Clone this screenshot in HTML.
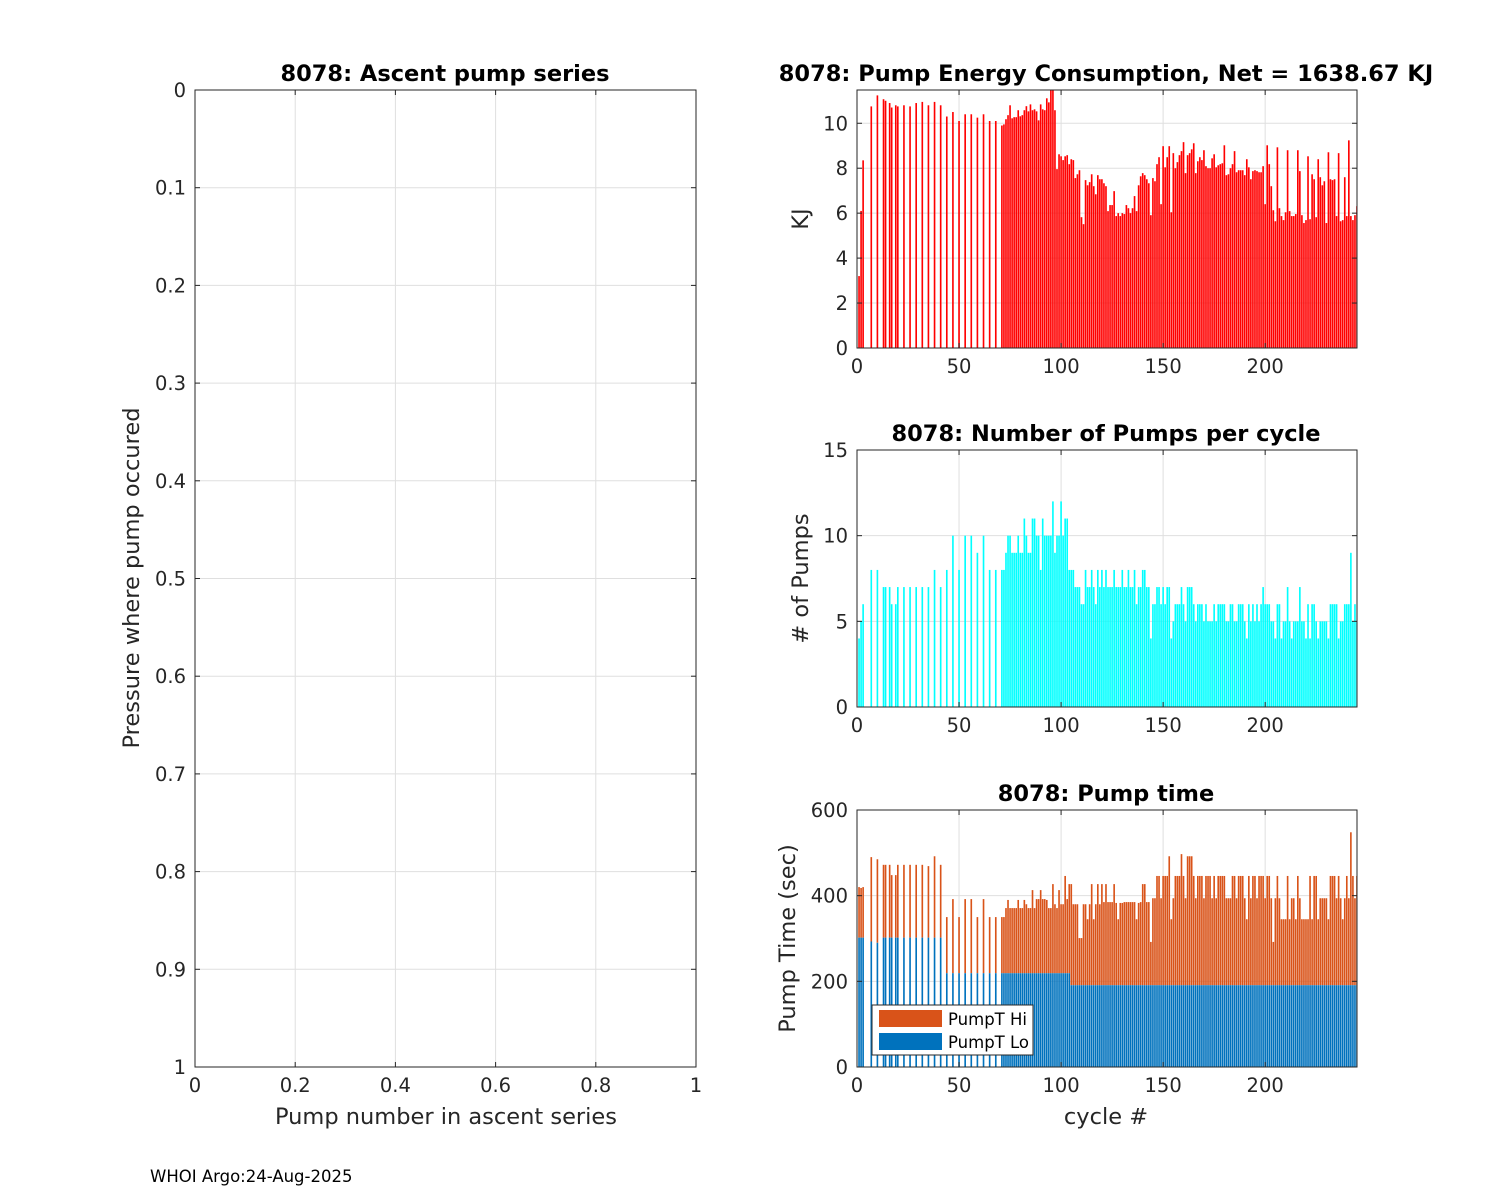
<!DOCTYPE html>
<html><head><meta charset="utf-8"><style>
html,body{margin:0;padding:0;background:#fff;}
svg{display:block;font-family:"DejaVu Sans","Liberation Sans",sans-serif;}
</style></head><body>
<svg id="fig" width="1500" height="1200" viewBox="0 0 1500 1200" xmlns="http://www.w3.org/2000/svg">
<rect width="1500" height="1200" fill="#fff"/>
<defs>
<clipPath id="c1"><rect x="857" y="90" width="500" height="258"/></clipPath>
<clipPath id="c2"><rect x="857" y="450" width="500" height="257"/></clipPath>
<clipPath id="c3"><rect x="857" y="810" width="500" height="257"/></clipPath>
</defs>
<g id="left"></g>
<g id="p1"></g>
<g id="p2"></g>
<g id="p3"></g>
<text x="150" y="1182" font-size="16.5" fill="#000">WHOI Argo:24-Aug-2025</text>
</svg>
<script>
// ---- data (per cycle, starting at cycle 1; 0 = no data) ----
const energyEarly = [3.2,6.1,8.35,0,0,0,10.75,0,0,11.24,0,0,11.07,11.0,0,10.9,10.7,0,10.8,10.75,0,0,10.8,0,0,10.75,0,0,10.9,0,0,10.95,0,0,10.8,0,0,10.95,0,0,10.8,0,0,10.3,0,0,10.5,0,0,10.1,0,0,10.4,0,0,10.4,0,0,10.25,0,0,10.4,0,0,10.1,0,0,10.1,0,0,9.9,9.95];
const energyMid = [10.18,10.36,10.8,10.22,10.27,10.27,10.58,10.31,10.36,10.58,10.76,10.53,10.84,10.58,10.62,10.53,10.13,10.84,10.62,10.58,11.11,10.93,11.47,11.6,10.58,7.96,8.62,8.53,8.36,8.53,8.58,8.18,8.4,8.36,7.56,7.73,7.91,5.82,5.51,7.47,7.24,7.38,7.73,7.2,6.84,7.69,7.51,7.51];
const energyLate = [7.33,7.2,6.09,6.36,6.36,6.98,5.87,6.0,5.87,6.0,5.96,6.36,6.22,6.0,6.22,6.76,6.09,7.24,7.64,7.78,7.69,7.51,7.33,5.91,7.56,7.42,8.18,8.49,6.4,8.98,8.04,8.49,8.98,6.04,8.67,8.0,8.27,8.58,8.76,9.16,7.78,8.58,8.67,8.84,9.11,7.78,8.31,8.49,8.36,8.8,8.09,8.0,8.0,8.44,8.62,8.04,8.13,8.18,8.22,9.02,7.69,7.73,8.0,8.18,8.76,7.82,7.91,7.91,7.91,7.69,8.4,8.04,7.51,7.87,7.91,7.87,7.82,7.82,8.09,6.4,9.02,8.18,7.2,6.13,5.64,8.93,6.22,5.87,5.69,6.04,8.8,6.09,5.87,5.87,5.96,8.8,7.87,5.91,5.56,5.69,8.53,5.73,7.73,7.51,5.82,8.4,7.6,7.24,7.42,5.56,8.71,7.51,7.47,7.51,5.87,8.67,5.64,5.69,7.6,5.87,9.24,5.87,5.69,5.91,6.31,5.91];
const pumpsEarly = [4,5,6,0,0,0,8,0,0,8,0,0,7,7,0,7,6,0,6,7,0,0,7,0,0,7,0,0,7,0,0,7,0,0,7,0,0,8,0,0,7,0,0,8,0,0,10,0,0,8,0,0,10,0,0,10,0,0,9,0,0,10,0,0,8,0,0,8,0,0,8,8];
const pumpsMid = [9,10,10,9,9,9,10,9,9,11,10,9,9,11,11,10,10,8,11,10,10,10,10,12,9,10,10,12,10,11,11,8,8,8,7,7,7,6,6,8,7,7,8,7,6,8,7,8];
const pumpsLate = [7,8,7,7,7,8,7,7,7,8,7,7,8,7,7,8,6,7,7,8,8,7,7,4,6,6,7,7,6,7,6,7,7,4,5,6,6,6,7,6,5,7,7,7,6,5,6,6,6,5,6,5,5,5,6,5,6,6,6,6,5,5,6,6,5,5,6,6,6,5,4,6,5,6,5,6,5,6,7,6,6,6,5,5,4,6,6,4,5,5,7,5,4,5,5,5,7,5,5,4,6,4,6,6,5,4,5,5,5,5,4,6,6,6,6,4,5,5,6,6,6,9,5,6,5,8,6];
const timeTotalEarly = [420,418,420,0,0,0,490,0,0,485,0,0,472,472,0,472,448,0,448,472,0,0,472,0,0,472,0,0,472,0,0,472,0,0,469,0,0,492,0,0,472,0,0,350,0,0,392,0,0,350,0,0,392,0,0,392,0,0,350,0,0,392,0,0,350,0,0,350,0,0,350,350];
const timeTotalMid = [371,390,371,371,371,371,390,371,371,390,380,371,371,413,371,392,392,413,392,392,390,371,371,427,380,371,413,380,380,446,392,427,427,380,380,380,301,301,380,380,345,380,427,345,380,427,380,427];
const timeTotalLate = [385,427,385,385,385,427,383,345,383,383,385,385,385,385,385,385,345,383,385,427,427,385,385,292,394,394,446,446,394,446,446,446,492,345,394,446,446,446,497,446,394,492,492,492,446,394,446,446,446,394,446,446,446,394,446,394,446,446,446,446,394,394,394,446,446,394,446,446,446,394,345,446,394,446,446,394,446,446,446,394,446,446,394,292,394,446,394,345,345,345,446,345,394,394,345,446,394,345,345,345,345,446,345,446,446,345,394,394,394,394,345,446,446,446,394,446,394,345,394,446,394,548,446,394,446,492,394];
// PumpT Lo levels by cycle range: [firstCycle, lastCycle, seconds]
const loRanges = [[1,3,302],[7,7,293],[10,10,290],[13,41,302],[44,104,219],[105,247,191]];
const xTicks = [0,50,100,150,200];
const energyTicks = [0,2,4,6,8,10];
const pumpTicks = [0,5,10,15];
const timeTicks = [0,200,400,600];
const leftXTicks = [0,0.2,0.4,0.6,0.8,1];
const leftYTicks = [0,0.1,0.2,0.3,0.4,0.5,0.6,0.7,0.8,0.9,1];

const NS = "http://www.w3.org/2000/svg";
function mk(tag, attrs, parent, txt){
  const e = document.createElementNS(NS, tag);
  for (const k in attrs) e.setAttribute(k, attrs[k]);
  if (txt !== undefined) e.textContent = txt;
  parent.appendChild(e); return e;
}
const AX = "#262626", GRID = "#dfdfdf";
const TICK = 19.5, TITLE = 22.5, LABEL = 22.5;
const energy = energyEarly.concat(energyMid, energyLate);
const pumps = pumpsEarly.concat(pumpsMid, pumpsLate);
const timeTotal = timeTotalEarly.concat(timeTotalMid, timeTotalLate);
function loAt(c){ for (const r of loRanges) if (c>=r[0] && c<=r[1]) return r[2]; return 191; }

const X0 = 857, X1 = 1357, XMAX = 245;
const xs = c => X0 + c*(X1-X0)/XMAX;
const BW = 0.8*(X1-X0)/XMAX;

function panel(g, top, bot, ymax, ticks, clip, title, ylabel, ylx){
  const ys = v => bot - v*(bot-top)/ymax;
  for (const t of xTicks) { const l = mk('line',{x1:xs(t),x2:xs(t),y1:top,y2:bot,stroke:GRID,'stroke-width':1},g);
      }
  for (const t of ticks) { const l = mk('line',{x1:X0,x2:X1,y1:ys(t),y2:ys(t),stroke:GRID,'stroke-width':1},g);
      }
  const bars = mk('g',{'clip-path':'url(#'+clip+')'},g);
   
  const fr = mk('rect',{x:X0,y:top,width:X1-X0,height:bot-top,fill:'none',stroke:AX,'stroke-width':1},g);
   
  for (const t of xTicks){
    mk('line',{x1:xs(t),x2:xs(t),y1:bot,y2:bot-5,stroke:AX},g);
    mk('line',{x1:xs(t),x2:xs(t),y1:top,y2:top+5,stroke:AX},g);
    const tx = mk('text',{x:xs(t),y:bot+25,'font-size':TICK,'text-anchor':'middle',fill:AX},g,String(t));
     
  }
  for (const t of ticks){
    mk('line',{x1:X0,x2:X0+5,y1:ys(t),y2:ys(t),stroke:AX},g);
    mk('line',{x1:X1,x2:X1-5,y1:ys(t),y2:ys(t),stroke:AX},g);
    const tx = mk('text',{x:X0-9,y:ys(t)+7,'font-size':TICK,'text-anchor':'end',fill:AX},g,String(t));
     
  }
  const ti = mk('text',{x:1106,y:top-9,'font-size':TITLE,'font-weight':'bold','text-anchor':'middle',fill:'#000','xml:space':'preserve'},g,title);
   
  const yl = mk('text',{x:ylx,y:(top+bot)/2,'font-size':LABEL,'text-anchor':'middle',fill:AX,transform:'rotate(-90 '+ylx+' '+(top+bot)/2+')'},g,ylabel);
   
  return {ys, bars};
}

const P1 = panel(document.getElementById('p1'), 90, 348, 11.48, energyTicks, 'c1', '8078: Pump Energy Consumption,  Net = 1638.67 KJ', 'KJ', 808);
energy.forEach((v,i)=>{ if(!v) return; const c=i+1;
  const r = mk('rect',{x:xs(c)-BW/2,y:P1.ys(v),width:BW,height:P1.ys(0)-P1.ys(v),fill:'#ff0000'},P1.bars);
    });

const P2 = panel(document.getElementById('p2'), 450, 707, 15, pumpTicks, 'c2', '8078: Number of Pumps per cycle', '# of Pumps', 808);
pumps.forEach((v,i)=>{ if(!v) return; const c=i+1;
  const r = mk('rect',{x:xs(c)-BW/2,y:P2.ys(v),width:BW,height:P2.ys(0)-P2.ys(v),fill:'#00ffff'},P2.bars);
    });

const P3 = panel(document.getElementById('p3'), 810, 1067, 600, timeTicks, 'c3', '8078: Pump time', 'Pump Time (sec)', 795);
timeTotal.forEach((v,i)=>{ if(!v) return; const c=i+1; const lo = loAt(c);
  const h = mk('rect',{x:xs(c)-BW/2,y:P3.ys(v),width:BW,height:P3.ys(lo)-P3.ys(v),fill:'#d95319'},P3.bars);
   
  const l = mk('rect',{x:xs(c)-BW/2,y:P3.ys(lo),width:BW,height:P3.ys(0)-P3.ys(lo),fill:'#0072bd'},P3.bars);
    });
const g3 = document.getElementById('p3');
const xl = mk('text',{x:1106,y:1124,'font-size':LABEL,'text-anchor':'middle',fill:AX},g3,'cycle #');
 
const lg = mk('g',{},g3);
 
mk('rect',{x:872,y:1005,width:161,height:50,fill:'#fff',stroke:AX,'stroke-width':1},lg);
const e1 = mk('g',{},lg);  
mk('rect',{x:879,y:1010,width:63,height:17,fill:'#d95319'},e1);
mk('text',{x:948,y:1025,'font-size':16.5,fill:'#000'},e1,'PumpT Hi');
const e2 = mk('g',{},lg);  
mk('rect',{x:879,y:1033,width:63,height:17,fill:'#0072bd'},e2);
mk('text',{x:948,y:1048,'font-size':16.5,fill:'#000'},e2,'PumpT Lo');

const L = document.getElementById('left');
const LX0=195, LX1=696, LY0=90, LY1=1067;
const lx = v => LX0 + v*(LX1-LX0), ly = v => LY0 + v*(LY1-LY0);
for (const t of leftXTicks){ const g=mk('line',{x1:lx(t),x2:lx(t),y1:LY0,y2:LY1,stroke:GRID},L);
    }
for (const t of leftYTicks){ const g=mk('line',{x1:LX0,x2:LX1,y1:ly(t),y2:ly(t),stroke:GRID},L);
    }
const lb = mk('rect',{x:LX0,y:LY0,width:LX1-LX0,height:LY1-LY0,fill:'none',stroke:AX},L);
 
for (const t of leftXTicks){
  mk('line',{x1:lx(t),x2:lx(t),y1:LY1,y2:LY1-5,stroke:AX},L);
  mk('line',{x1:lx(t),x2:lx(t),y1:LY0,y2:LY0+5,stroke:AX},L);
  const tx=mk('text',{x:lx(t),y:LY1+25,'font-size':TICK,'text-anchor':'middle',fill:AX},L,String(t));
   
}
for (const t of leftYTicks){
  mk('line',{x1:LX0,x2:LX0+5,y1:ly(t),y2:ly(t),stroke:AX},L);
  mk('line',{x1:LX1,x2:LX1-5,y1:ly(t),y2:ly(t),stroke:AX},L);
  const tx=mk('text',{x:LX0-9,y:ly(t)+7,'font-size':TICK,'text-anchor':'end',fill:AX},L,String(t));
   
}
const lt = mk('text',{x:445,y:81,'font-size':TITLE,'font-weight':'bold','text-anchor':'middle',fill:'#000'},L,'8078: Ascent pump series');
 
const lxl = mk('text',{x:446,y:1124,'font-size':LABEL,'text-anchor':'middle',fill:AX},L,'Pump number in ascent series');
 
const lyl = mk('text',{x:139,y:578,'font-size':LABEL,'text-anchor':'middle',fill:AX,transform:'rotate(-90 139 578)'},L,'Pressure where pump occured');
 
</script>
</body></html>
